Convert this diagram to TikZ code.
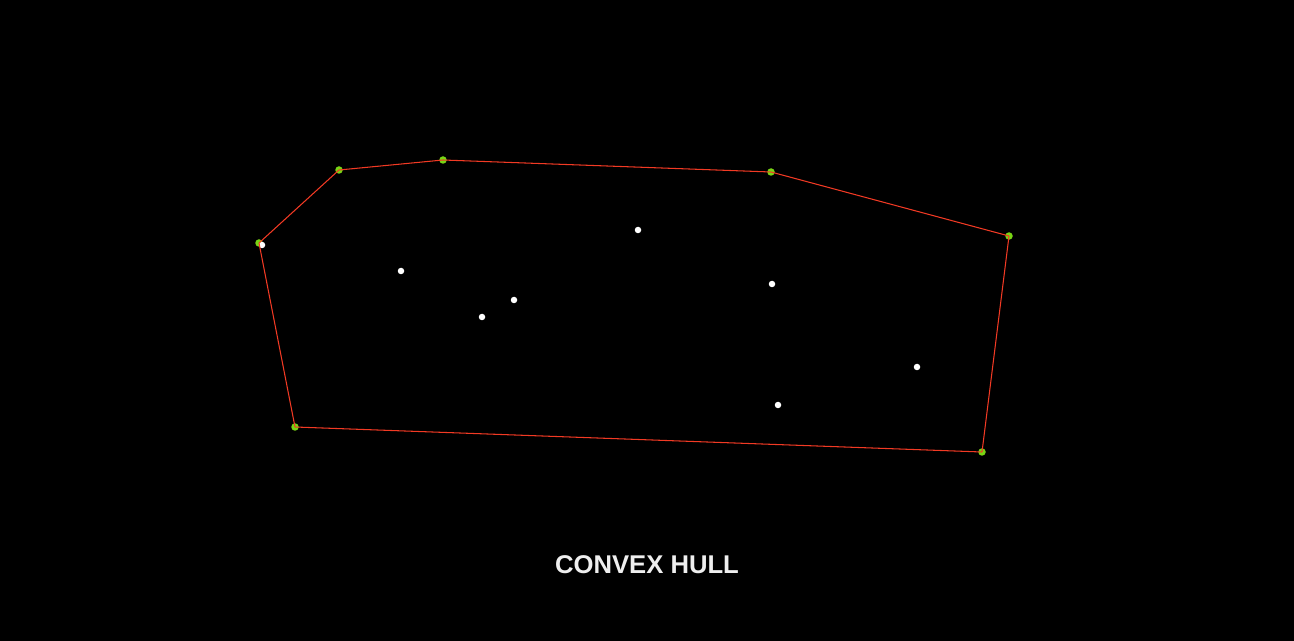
\documentclass[tikz,border=0pt]{standalone}
\usepackage{fontspec}
\setmainfont{Liberation Sans}
\usepackage{tikz}
\usetikzlibrary{positioning}
\definecolor{hullred}{HTML}{F23A24}
\definecolor{hullgreen}{HTML}{78D414}
\definecolor{titlegray}{HTML}{EFEFEF}

\begin{document}
\begin{tikzpicture}[
    x=0.02cm, y=-0.02cm, % 1 unidad = 1 pixel de la imagen
    % Estilos de los puntos
    pt/.style={
        circle, fill=white, inner sep=0pt, minimum size=0.13cm
    },
    hullpt/.style={
        circle, fill=hullgreen, inner sep=0pt, minimum size=0.15cm
    },
    % Estilo de las aristas
    edge/.style={
        draw=hullred, line width=0.6pt
    },
    title/.style={
        font=\bfseries\fontsize{14.6}{18}\selectfont, text=titlegray
    }
]

    % 0. Fondo negro (fija el tamaño)
    \fill[black] (0,0) rectangle (1294,641);

    % 1. Vertices del casco convexo
    \node[hullpt] (h1) at (259,243) {};
    \node[hullpt] (h2) at (339,170) {};
    \node[hullpt] (h3) at (443,160) {};
    \node[hullpt] (h4) at (771,172) {};
    \node[hullpt] (h5) at (1009,236) {};
    \node[hullpt] (h6) at (982,452) {};
    \node[hullpt] (h7) at (295,427) {};

    % 2. Puntos interiores
    \node[pt] (p1) at (262,245) {};
    \node[pt] (p2) at (401,271) {};
    \node[pt] (p3) at (514,300) {};
    \node[pt] (p4) at (482,317) {};
    \node[pt] (p5) at (638,230) {};
    \node[pt] (p6) at (772,284) {};
    \node[pt] (p7) at (917,367) {};
    \node[pt] (p8) at (778,405) {};

    % 3. Aristas del casco
    \foreach \a/\b in {h1/h2, h2/h3, h3/h4, h4/h5, h5/h6, h6/h7, h7/h1}
        \draw[edge] (\a.center) -- (\b.center);

    % 4. Titulo
    \node[title] (lbl) at (647,565) {CONVEX HULL};

\end{tikzpicture}
\end{document}
